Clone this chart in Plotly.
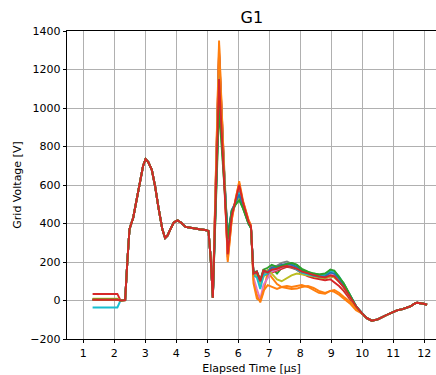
import plotly.graph_objects as go

# ---- data ----
t_start = [1.30, 2.10]
start_levels = [3, 3, 7, 34, 2, 2, 4, 3, 10, -36, 2, 4, 5, 4]

t_head = [2.20, 2.35, 2.42, 2.49, 2.61, 2.72, 2.83, 2.93, 3.01, 3.10, 3.21, 3.32, 3.42,
          3.55, 3.64, 3.72, 3.80, 3.92, 4.04, 4.15, 4.30, 4.50, 4.75, 4.98, 5.04, 5.11, 5.18]
v_head = [0, 2, 200, 370, 430, 520, 611, 700, 735, 718, 679, 590, 488,
          370, 325, 338, 367, 405, 416, 405, 382, 375, 370, 365, 360, 220, 15]

t_mid = [5.38, 5.66, 5.79, 5.92, 6.03, 6.15, 6.33, 6.41, 6.49, 6.60, 6.71, 6.81, 6.95, 7.08, 7.25,
         7.40, 7.57, 7.72, 7.89, 8.05, 8.25, 8.43, 8.60, 8.80, 8.97, 9.10, 9.25, 9.40, 9.60, 9.80]

mid_s0 = [1200, 280, 450, 510, 560, 495, 405, 380, 130, 135, 70, 145, 125, 165, 170, 175, 185, 180, 170, 150, 140, 135, 125, 120, 135, 130, 110, 80, 25, -30]
mid_s1 = [1350, 200, 420, 540, 620, 520, 420, 390, 110, 30, -10, 40, 150, 120, 85, 70, 65, 60, 62, 70, 75, 65, 50, 40, 50, 45, 30, 10, -15, -50]
mid_s2 = [1000, 330, 470, 500, 530, 480, 400, 375, 150, 150, 110, 140, 150, 170, 140, 170, 185, 195, 185, 165, 150, 140, 135, 130, 160, 150, 120, 90, 30, -30]
mid_s3 = [1290, 225, 440, 520, 590, 510, 410, 385, 140, 145, 95, 150, 140, 145, 155, 165, 175, 170, 160, 140, 125, 117, 110, 105, 110, 95, 75, 50, 10, -35]
mid_s4 = [1150, 300, 455, 505, 550, 490, 400, 380, 135, 150, 100, 155, 150, 175, 180, 185, 190, 180, 165, 150, 140, 130, 125, 120, 130, 125, 105, 75, 20, -30]
mid_s5 = [1100, 320, 460, 510, 560, 495, 405, 380, 140, 145, 105, 150, 155, 170, 175, 180, 180, 175, 160, 145, 135, 130, 120, 115, 125, 120, 100, 70, 20, -35]
mid_s6 = [1250, 250, 440, 520, 580, 505, 410, 385, 120, 60, 5, 80, 120, 150, 160, 170, 185, 180, 170, 150, 140, 135, 130, 125, 135, 130, 105, 75, 20, -30]
mid_s7 = [1280, 290, 450, 515, 570, 500, 408, 382, 135, 140, 90, 145, 140, 165, 180, 195, 203, 190, 170, 150, 135, 130, 120, 115, 130, 125, 100, 70, 20, -30]
mid_s8 = [1180, 310, 455, 505, 540, 485, 400, 378, 130, 130, 80, 120, 160, 140, 110, 100, 115, 130, 140, 135, 130, 125, 120, 115, 125, 120, 100, 70, 20, -30]
mid_s9 = [1220, 280, 450, 510, 560, 495, 405, 380, 130, 120, 60, 130, 140, 160, 170, 175, 180, 175, 160, 145, 135, 130, 130, 135, 155, 150, 125, 85, 30, -30]
mid_s10 = [1100, 340, 470, 510, 550, 490, 400, 378, 140, 150, 100, 150, 150, 170, 175, 185, 190, 185, 175, 155, 140, 130, 125, 125, 145, 140, 115, 80, 25, -30]
mid_s11 = [1330, 210, 420, 535, 610, 515, 418, 388, 90, 10, 0, 50, 80, 70, 60, 70, 75, 70, 75, 80, 70, 55, 40, 35, 50, 55, 40, 20, -5, -40]
mid_s12 = [1050, 320, 465, 500, 520, 480, 398, 376, 145, 150, 105, 160, 170, 185, 175, 180, 190, 195, 185, 160, 145, 140, 135, 140, 160, 155, 125, 90, 30, -30]
mid_s13 = [1150, 240, 440, 520, 600, 510, 410, 385, 140, 150, 100, 155, 145, 160, 165, 175, 180, 175, 165, 150, 140, 130, 125, 120, 130, 125, 100, 70, 20, -30]

t_tail = [10.00, 10.15, 10.31, 10.50, 10.80, 11.00, 11.12, 11.30, 11.55, 11.70, 11.77, 11.98, 12.09]
v_tail = [-68, -92, -105, -98, -74, -60, -51, -45, -31, -15, -12, -17, -22]

x_ticks = list(range(1, 13))
y_ticks = list(range(-200, 1401, 200))

mids = [mid_s0, mid_s1, mid_s2, mid_s3, mid_s4, mid_s5, mid_s6, mid_s7,
        mid_s8, mid_s9, mid_s10, mid_s11, mid_s12, mid_s13]

colors = ["#1f77b4", "#ff7f0e", "#2ca02c", "#d62728", "#9467bd",
          "#8c564b", "#e377c2", "#7f7f7f", "#bcbd22", "#17becf"]

fig = go.Figure()
t_all = t_start + t_head + t_mid + t_tail
for i, mid in enumerate(mids):
    y = [start_levels[i], start_levels[i]] + v_head + mid + v_tail
    fig.add_trace(go.Scatter(x=t_all, y=y, mode="lines",
                             line=dict(color=colors[i % 10], width=1.9),
                             showlegend=False, hoverinfo="skip"))

font = "DejaVu Sans"
fig.update_layout(
    width=436, height=375,
    margin=dict(l=67, r=0, t=31, b=36, autoexpand=False),
    paper_bgcolor="white", plot_bgcolor="white",
    font=dict(family=font, size=11, color="black"),
    title=dict(text="G1", x=0.5775, xanchor="center", y=1 - 17 / 375, yanchor="middle",
               yref="container", font=dict(family=font, size=16, color="black"),
               automargin=False),
    xaxis=dict(range=[0.474, 12.38], tickvals=x_ticks, ticktext=[str(v) for v in x_ticks],
               automargin=False,
               showgrid=True, gridcolor="#b0b0b0", gridwidth=0.8,
               showline=True, linecolor="black", linewidth=0.8, mirror=True,
               ticks="outside", ticklen=3.5, tickwidth=0.8, tickcolor="black",
               zeroline=False,
               title=dict(text="Elapsed Time [µs]", standoff=5, font=dict(size=11))),
    yaxis=dict(range=[-200, 1400], tickvals=y_ticks, automargin=False,
               showgrid=True, gridcolor="#b0b0b0", gridwidth=0.8,
               showline=True, linecolor="black", linewidth=0.8, mirror=False,
               ticks="outside", ticklen=3.5, tickwidth=0.8, tickcolor="black",
               zeroline=False,
               title=dict(text="Grid Voltage [V]", standoff=6, font=dict(size=11))),
)

fig.write_html("out.html", config={"displayModeBar": False},
               post_script="document.body.style.margin='0px';document.body.style.overflow='hidden';")
